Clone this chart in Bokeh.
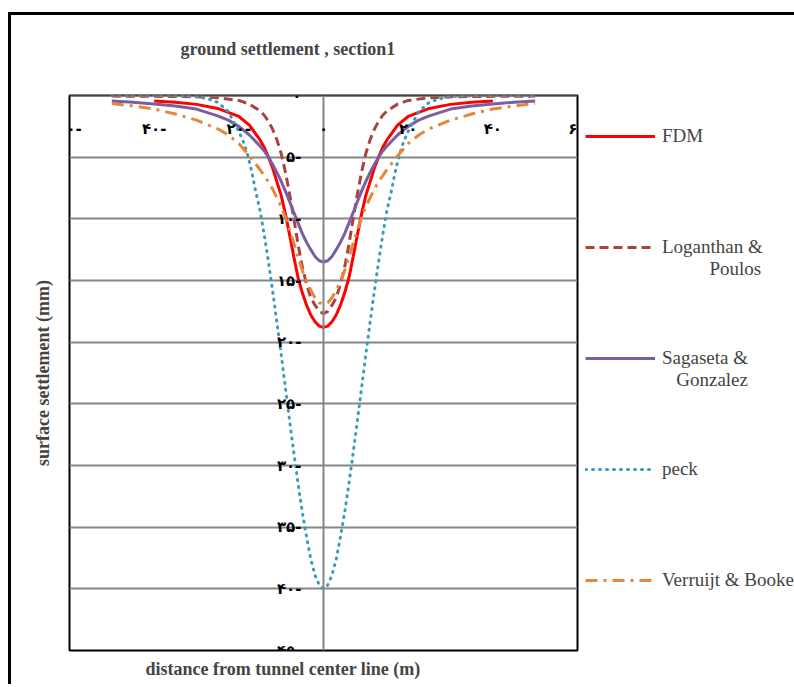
from bokeh.plotting import figure
from bokeh.models import Range1d, Legend, LegendItem, Title, Label
from bokeh.embed import file_html
from bokeh.resources import INLINE

# ---- data ----
x_ticks = [-60, -40, -20, 0, 20, 40, 60]
x_tick_labels = ["۶۰-", "۴۰-", "۲۰-", "۰", "۲۰", "۴۰", "۶۰"]
y_ticks = [0, 5, 10, 15, 20, 25, 30, 35, 40, 45]
y_tick_labels = ["۰", "۵-", "۱۰-", "۱۵-", "۲۰-", "۲۵-", "۳۰-", "۳۵-", "۴۰-", "۴۵-"]

x_fdm = [-40, -35, -30, -25, -20, -17.5, -15, -14, -13, -12, -11, -10, -9, -8, -7, -6, -5, -4, -3, -2, -1, 0,
         1, 2, 3, 4, 5, 6, 7, 8, 9, 10, 11, 12, 13, 14, 15, 17.5, 20, 25, 30, 35, 40]
y_fdm = [0.45, 0.55, 0.72, 1.05, 1.7, 2.4, 3.6, 4.2, 5.0, 5.9, 7.0, 8.1, 9.6, 11.3, 13.1, 14.8, 16.0, 17.0, 17.8, 18.35, 18.7, 18.8,
         18.7, 18.35, 17.8, 17.0, 16.0, 14.8, 13.1, 11.3, 9.6, 8.1, 7.0, 5.9, 5.0, 4.2, 3.6, 2.4, 1.7, 1.05, 0.72, 0.55, 0.45]

x_lp = [-50, -40, -30, -25, -20, -17.5, -15, -14, -13, -12, -11, -10, -9, -8, -7, -6, -5, -4, -3, -2, -1, 0,
        1, 2, 3, 4, 5, 6, 7, 8, 9, 10, 11, 12, 13, 14, 15, 17.5, 20, 25, 30, 40, 50]
y_lp = [0.05, 0.07, 0.1, 0.18, 0.4, 0.7, 1.25, 1.6, 2.1, 2.75, 3.6, 4.7, 6.2, 8.0, 10.0, 12.1, 13.9, 15.3, 16.4, 17.0, 17.5, 17.7,
        17.5, 17.0, 16.4, 15.3, 13.9, 12.1, 10.0, 8.0, 6.2, 4.7, 3.6, 2.75, 2.1, 1.6, 1.25, 0.7, 0.4, 0.18, 0.1, 0.07, 0.05]

x_sg = [-50, -45, -40, -35, -30, -25, -22.5, -20, -17.5, -15, -14, -13, -12, -11, -10, -9, -8, -7, -6, -5, -4, -3, -2, -1, 0,
        1, 2, 3, 4, 5, 6, 7, 8, 9, 10, 11, 12, 13, 14, 15, 17.5, 20, 22.5, 25, 30, 35, 40, 45, 50]
y_sg = [0.45, 0.55, 0.68, 0.85, 1.1, 1.65, 2.0, 2.5, 3.2, 4.1, 4.5, 5.0, 5.6, 6.25, 6.95, 7.75, 8.6, 9.5, 10.35, 11.2, 11.9, 12.5, 13.05, 13.4, 13.5,
        13.4, 13.05, 12.5, 11.9, 11.2, 10.35, 9.5, 8.6, 7.75, 6.95, 6.25, 5.6, 5.0, 4.5, 4.1, 3.2, 2.5, 2.0, 1.65, 1.1, 0.85, 0.68, 0.55, 0.45]

x_peck = [-50, -40, -35, -30, -27.5, -25, -22.5, -20, -19, -18, -17, -16, -15, -14, -13, -12, -11, -10, -9, -8, -7, -6, -5, -4, -3, -2, -1, 0,
          1, 2, 3, 4, 5, 6, 7, 8, 9, 10, 11, 12, 13, 14, 15, 16, 17, 18, 19, 20, 22.5, 25, 27.5, 30, 35, 40, 50]
y_peck = [0.0, 0.0, 0.03, 0.1, 0.25, 0.55, 1.3, 2.9, 3.7, 4.7, 6.1, 7.8, 9.3, 11.3, 13.5, 15.9, 18.4, 21.0, 23.7, 26.4, 29.0, 31.5, 33.8, 35.8, 37.6, 38.9, 39.7, 40.0,
          39.7, 38.9, 37.6, 35.8, 33.8, 31.5, 29.0, 26.4, 23.7, 21.0, 18.4, 15.9, 13.5, 11.3, 9.3, 7.8, 6.1, 4.7, 3.7, 2.9, 1.3, 0.55, 0.25, 0.1, 0.03, 0.0, 0.0]

x_vb = [-50, -45, -40, -35, -30, -25, -22.5, -20, -17.5, -15, -14, -13, -12, -11, -10, -9, -8, -7, -6, -5, -4, -3, -2, -1, 0,
        1, 2, 3, 4, 5, 6, 7, 8, 9, 10, 11, 12, 13, 14, 15, 17.5, 20, 22.5, 25, 30, 35, 40, 45, 50]
y_vb = [0.65, 0.85, 1.1, 1.5, 2.0, 2.7, 3.2, 3.9, 4.9, 6.0, 6.5, 7.0, 7.6, 8.3, 9.0, 9.9, 10.9, 12.0, 13.1, 14.2, 15.1, 15.8, 16.4, 16.8, 16.9,
        16.8, 16.4, 15.8, 15.1, 14.2, 13.1, 12.0, 10.9, 9.9, 9.0, 8.3, 7.6, 7.0, 6.5, 6.0, 4.9, 3.9, 3.2, 2.7, 2.0, 1.5, 1.1, 0.85, 0.65]

NB = "\u00a0"
# blank first line keeps each legend glyph level with the first text line
series_names = [NB + "\nFDM\n" + NB,
                NB + "\nLoganthan &\n" + NB * 10 + "Poulos",
                NB + "\nSagaseta &\n" + NB * 3 + "Gonzalez",
                NB + "\npeck\n" + NB,
                NB + "\nVerruijt & Booke\n" + NB]

SERIF = "Liberation Serif"
GRID = "#868686"
TICKFONT = "DejaVu Sans"

p = figure(frame_width=508, frame_height=555, x_range=Range1d(-60, 60), y_range=Range1d(45, 0),
           output_backend="svg", toolbar_location=None,
           min_border_left=58, min_border_right=206, min_border_top=80, min_border_bottom=30)
p.styles = {"border-top": "3px solid black", "border-left": "3px solid black",
            "margin-top": "12px", "margin-left": "8px"}

p.background_fill_color = "white"
p.border_fill_color = "white"
p.outline_line_color = "black"
p.outline_line_width = 2

# axes crossing at (0, 0) like the original
xa = p.xaxis[0]
xa.fixed_location = 0
xa.ticker = x_ticks
ya = p.yaxis[0]
ya.fixed_location = 0
ya.ticker = y_ticks
for ax in (xa, ya):
    ax.axis_line_color = GRID
    ax.axis_line_width = 2
    ax.major_tick_line_color = None
    ax.minor_tick_line_color = None
    ax.major_tick_out = 0
    ax.major_tick_in = 0
    ax.major_label_text_color = None

# tick labels next to the crossing axes
tick_style = dict(text_font=TICKFONT, text_font_size="15px", text_font_style="bold",
                  text_color="black", text_baseline="middle")
for xv, lab in zip(x_ticks, x_tick_labels):
    p.add_layout(Label(x=xv, y=0, text=lab, y_offset=-33, text_align="center", **tick_style))
for yv, lab in zip(y_ticks, y_tick_labels):
    p.add_layout(Label(x=0, y=yv, text=lab, x_offset=-22, text_align="right", **tick_style))

p.xgrid.visible = False
p.ygrid.grid_line_color = GRID
p.ygrid.grid_line_width = 2

p.title.text = "ground settlement , section1\n" + NB
p.title.align = "left"
p.title.offset = 111
p.title.standoff = 34
p.title.text_font = SERIF
p.title.text_font_size = "18px"
p.title.text_font_style = "bold"

p.add_layout(Title(text="surface settlement (mm)", align="center", standoff=34,
                   text_font=SERIF, text_font_size="18px", text_font_style="bold"), "left")
p.add_layout(Title(text="distance from tunnel center line (m)", align="left", offset=76, standoff=12,
                   text_font=SERIF, text_font_size="18px", text_font_style="bold"), "below")

r1 = p.line(x_fdm, y_fdm, line_color="#FF0000", line_width=3)
r2 = p.line(x_lp, y_lp, line_color="#A8433F", line_width=3, line_dash="9 5")
r3 = p.line(x_sg, y_sg, line_color="#7A5FA0", line_width=3)
r4 = p.line(x_peck, y_peck, line_color="#3A9DB8", line_width=3, line_dash="1 6", line_cap="round")
r5 = p.line(x_vb, y_vb, line_color="#E5873A", line_width=3, line_dash="12 6 3 6")

legend = Legend(items=[LegendItem(label=n, renderers=[r]) for n, r in zip(series_names, [r1, r2, r3, r4, r5])],
                location="top_left", glyph_width=70, glyph_height=20, label_standoff=7, spacing=45,
                padding=0, margin=8, border_line_color=None, background_fill_alpha=0,
                label_text_font=SERIF, label_text_font_size="19px")
p.add_layout(legend, "right")

open("out.html", "w").write(file_html(p, INLINE))
